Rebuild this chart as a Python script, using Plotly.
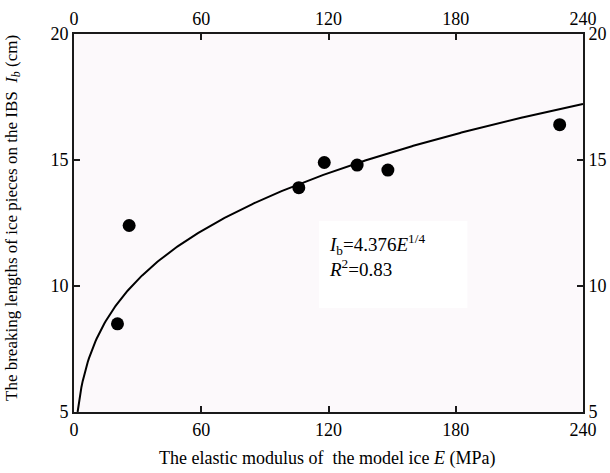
import numpy as np
import plotly.graph_objects as go

# Data
E_mpa = [20.5, 26.0, 106.0, 118.0, 133.5, 148.0, 229.0]
lb_cm = [8.5, 12.4, 13.9, 14.9, 14.8, 14.6, 16.4]

# Fitted model stated on the chart: Ib = 4.376 * E^(1/4)
fit_coef = 4.376
fit_exp = 0.25
fit_E = np.linspace((5.0 / fit_coef) ** (1 / fit_exp), 240, 400)
fit_I = fit_coef * fit_E ** fit_exp

x_ticks = [0, 60, 120, 180, 240]
y_ticks = [5, 10, 15, 20]

FONT = "Times New Roman, Liberation Serif, DejaVu Serif, serif"
AX = "#1a1a1a"

fig = go.Figure()
fig.add_trace(go.Scatter(x=fit_E, y=fit_I, mode="lines",
                         line=dict(color="black", width=2), showlegend=False,
                         hoverinfo="skip"))
fig.add_trace(go.Scatter(x=E_mpa, y=lb_cm, mode="markers",
                         marker=dict(color="black", size=13), showlegend=False))
# invisible trace to hold secondary axes
fig.add_trace(go.Scatter(x=[0, 240], y=[5, 20], xaxis="x2", yaxis="y2",
                         mode="markers", marker=dict(opacity=0), showlegend=False,
                         hoverinfo="skip"))

axis_common = dict(showgrid=False, zeroline=False, showline=True, linecolor=AX,
                   linewidth=2, ticks="inside", ticklen=6, tickwidth=1.5,
                   tickcolor=AX, tickfont=dict(family=FONT, size=18, color="black"),
                   automargin=False)

fig.update_layout(
    width=610, height=473,
    margin=dict(l=74, r=27, t=34, b=61),
    paper_bgcolor="white",
    plot_bgcolor="#fcf9fb",
    font=dict(family=FONT, color="black"),
    xaxis=dict(range=[0, 240], tickvals=x_ticks, ticktext=[str(v) for v in x_ticks],
               **axis_common),
    yaxis=dict(range=[5, 20], tickvals=y_ticks, ticktext=[str(v) for v in y_ticks],
               **axis_common),
    xaxis2=dict(range=[0, 240], tickvals=x_ticks, ticktext=[str(v) for v in x_ticks],
                overlaying="x", side="top", anchor="y2", **axis_common),
    yaxis2=dict(range=[5, 20], tickvals=y_ticks, ticktext=[str(v) for v in y_ticks],
                overlaying="y", side="right", anchor="x2", **axis_common),
)

# axis titles
fig.add_annotation(xref="paper", yref="paper", x=0.497, y=-0.1217,
                   xanchor="center", yanchor="middle", showarrow=False,
                   text="The elastic modulus of  the model ice <i>E</i> (MPa)",
                   font=dict(family=FONT, size=18, color="black"))
fig.add_annotation(xref="paper", yref="paper", x=-0.12, y=0.513,
                   xanchor="center", yanchor="middle", showarrow=False, textangle=-90,
                   text="The breaking lengths of ice pieces on the IBS  <i>I<sub>b</sub></i> (cm)",
                   font=dict(family=FONT, size=17, color="black"))

fig.add_shape(type="rect", xref="x", yref="y", x0=115.5, x1=185.5, y0=9.13, y1=12.58,
              fillcolor="white", line=dict(width=0), layer="below")

fig.add_annotation(xref="x", yref="y", x=119.5, y=11.2, xanchor="left", yanchor="middle",
                   align="left", showarrow=False,
                   text="<i>I</i><sub>b</sub>=4.376<i>E</i><sup>1/4</sup><br><i>R</i><sup>2</sup>=0.83",
                   font=dict(family=FONT, size=19, color="black"))

fig.write_html("out.html")
